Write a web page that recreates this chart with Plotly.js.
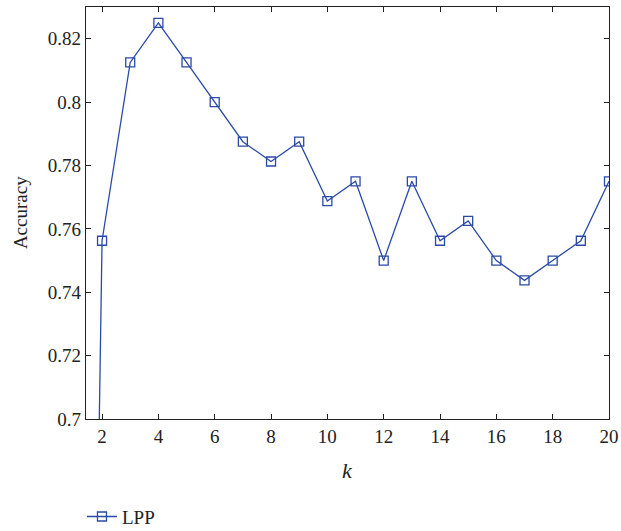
<!DOCTYPE html>
<html>
<head>
<meta charset="utf-8">
<script src="https://cdn.plot.ly/plotly-3.0.1.min.js"></script>
<style>html,body{margin:0;padding:0;background:#fff;}</style>
</head>
<body>
<div id="chart" style="width:621px;height:531px;"></div>
<script>
var kValues = [1, 2, 3, 4, 5, 6, 7, 8, 9, 10, 11, 12, 13, 14, 15, 16, 17, 18, 19, 20];
var accuracy = [0.18, 0.75625, 0.8125, 0.825, 0.8125, 0.8, 0.7875, 0.78125, 0.7875, 0.76875, 0.775, 0.75, 0.775, 0.75625, 0.7625, 0.75, 0.74375, 0.75, 0.75625, 0.775];
var xTicks = [2, 4, 6, 8, 10, 12, 14, 16, 18, 20];
var yTicks = [0.7, 0.72, 0.74, 0.76, 0.78, 0.8, 0.82];
var seriesName = 'LPP';
var xTitle = '<i>k</i>';
var yTitle = 'Accuracy';

var font = {family: 'Liberation Serif, serif', size: 19, color: '#222'};

var trace = {
  x: kValues,
  y: accuracy,
  type: 'scatter',
  mode: 'lines+markers',
  name: seriesName,
  line: {color: '#2b4aa6', width: 1.3},
  marker: {symbol: 'square-open', size: 9, color: '#2b4aa6', line: {width: 1.3, color: '#2b4aa6'}}
};

var axisCommon = {
  ticks: 'inside',
  ticklen: 5,
  tickcolor: '#222',
  showline: true,
  linecolor: '#222',
  linewidth: 1.3,
  mirror: 'ticks',
  showgrid: false,
  zeroline: false,
  automargin: false,
  tickfont: font
};

var layout = {
  width: 621,
  height: 531,
  margin: {l: 86, r: 12, t: 7, b: 112, autoexpand: false},
  paper_bgcolor: '#fff',
  plot_bgcolor: '#fff',
  font: font,
  showlegend: true,
  legend: {xref: 'container', yref: 'container', x: 0.132, y: 0.027, xanchor: 'left', yanchor: 'middle', font: font, bgcolor: 'rgba(0,0,0,0)'},
  xaxis: Object.assign({}, axisCommon, {
    range: [1.43, 20],
    tickvals: xTicks,
    ticktext: xTicks.map(String)
  }),
  yaxis: Object.assign({}, axisCommon, {
    range: [0.7, 0.83],
    tickvals: yTicks,
    ticktext: yTicks.map(function(v){return String(v);})
  }),
  annotations: [
    {text: yTitle, xref: 'paper', yref: 'paper', x: -0.126, y: 0.5, xanchor: 'center', yanchor: 'middle', textangle: -90, showarrow: false, font: font},
    {text: xTitle, xref: 'paper', yref: 'paper', x: 0.5, y: -0.124, xanchor: 'center', yanchor: 'middle', showarrow: false, font: {family: font.family, size: 22, color: '#222'}}
  ]
};

Plotly.newPlot('chart', [trace], layout, {displayModeBar: false, staticPlot: true});
</script>
</body>
</html>
